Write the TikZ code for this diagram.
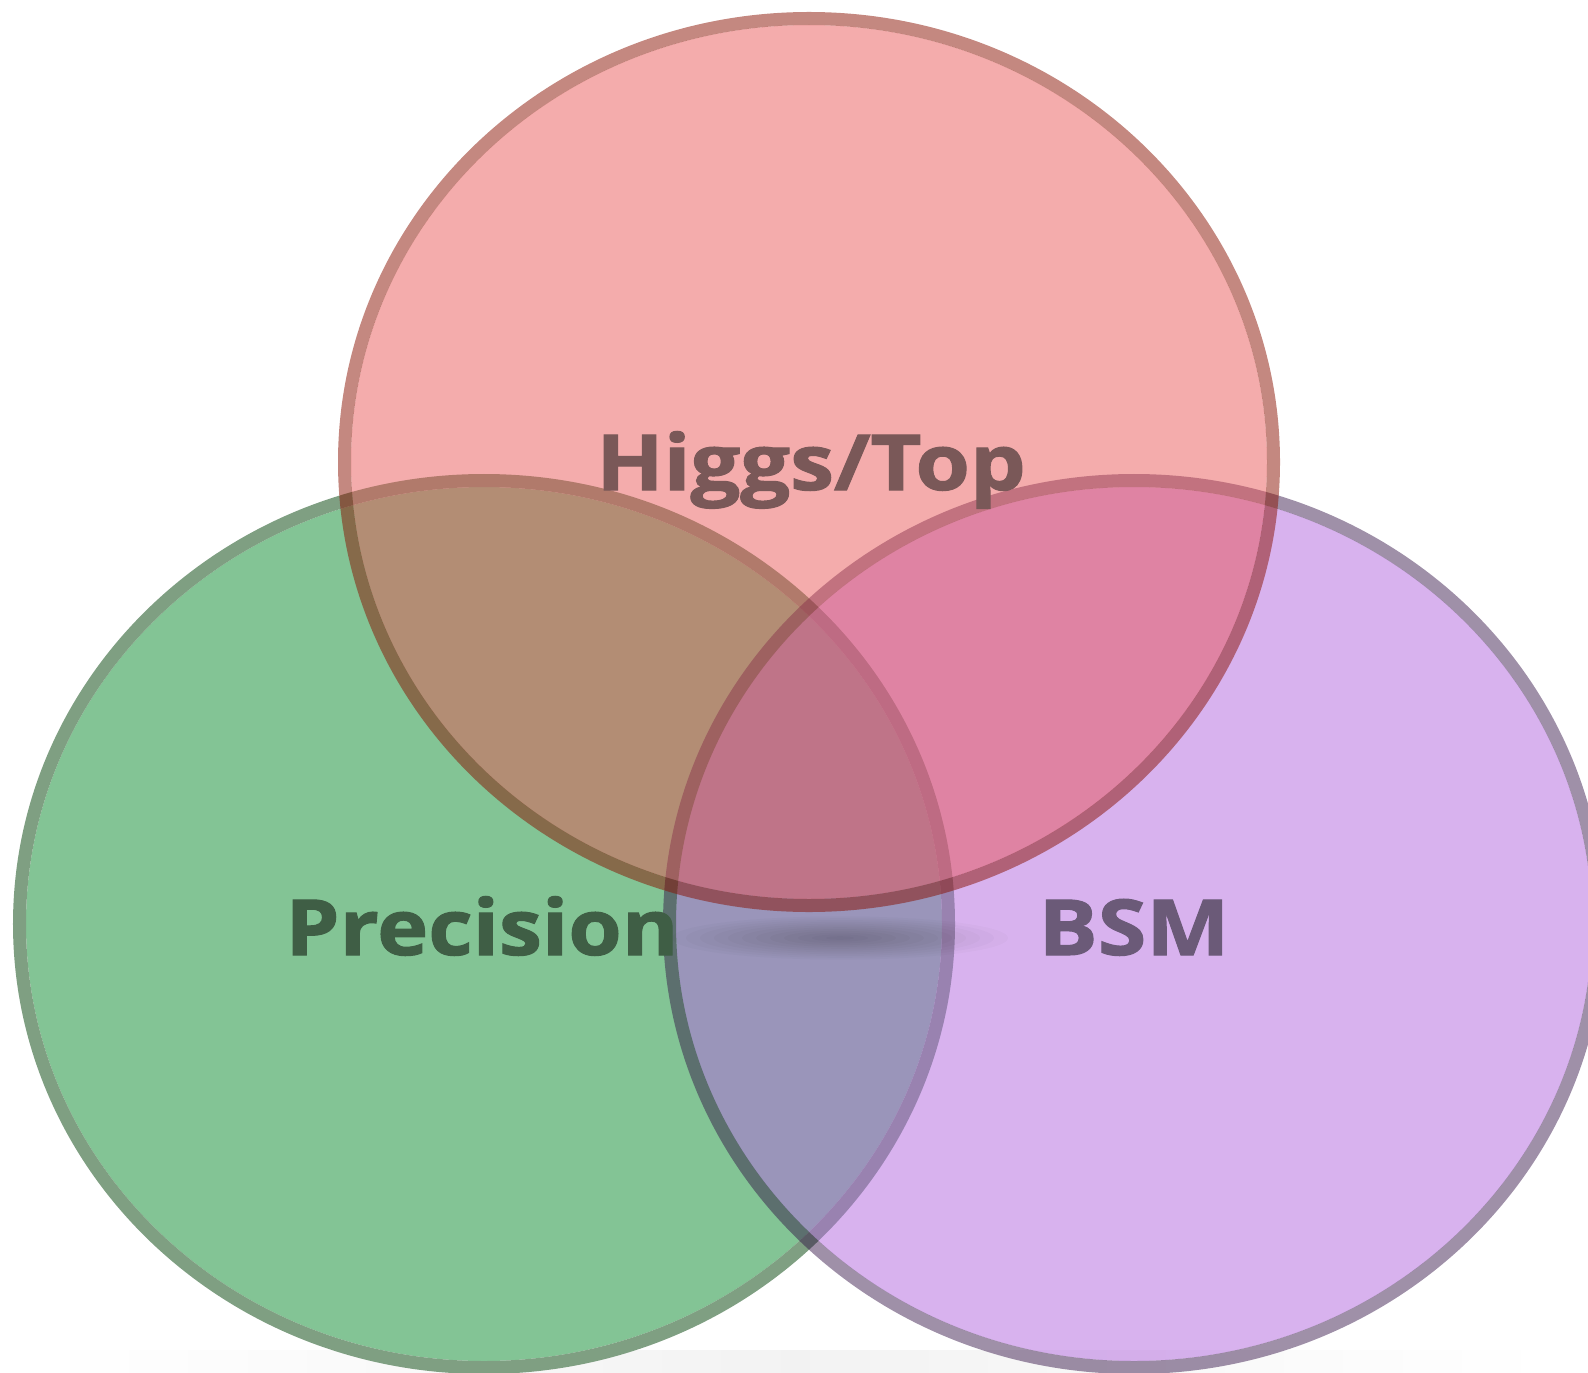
\documentclass[tikz,border=0pt]{standalone}
\usepackage{fontspec}
\setmainfont{Open Sans}
\newfontfamily\lblfont{Open Sans}[BoldFeatures={FakeBold=1.3}]
\usetikzlibrary{calc}
\newcommand*{\radx }{464.5}
\newcommand*{\rady }{443.5}
\newcommand*{\fillx}{458}
\newcommand*{\filly}{437}
\newcommand*{\rimw }{0.13cm}
\definecolor{precfill}{RGB}{131,196,149}
\definecolor{precrim}{RGB}{127,159,130}
\definecolor{bsmfill}{RGB}{178,104,222}
\definecolor{bsmrim}{RGB}{46,12,66}
\definecolor{higgsfill}{RGB}{232,82,82}
\definecolor{higgsrim}{RGB}{137,17,1}
\definecolor{higgstext}{RGB}{122,88,88}
\definecolor{prectext}{RGB}{63,94,69}
\definecolor{bsmtext}{RGB}{107,90,120}

\begin{document}
\begin{tikzpicture}[x=0.01cm, y=-0.01cm, font=\lblfont\bfseries\fontsize{22}{26}\selectfont,
    lbl/.style={anchor=base, inner sep=0pt, xscale=1.14, transform shape}]
    \useasboundingbox (0,0) rectangle (1588,1373);
    \shade [left color=white, right color=white, middle color=black!5] (40,1350) rectangle (1550,1373);
    % precision (drawn first, no transparency)
    \fill [precfill] (484,924) ellipse ({\fillx} and {\filly});
    \draw [precrim, line width=\rimw] (484,924) ellipse ({\radx} and {\rady});
    % bsm
    \fill [bsmfill, fill opacity=0.51] (1134,924) ellipse ({\fillx} and {\filly});
    \draw [bsmrim, draw opacity=0.46, line width=\rimw] (1134,924) ellipse ({\radx} and {\rady});
    % higgs/top
    \fill [higgsfill, fill opacity=0.48] (809,462) ellipse ({\fillx} and {\filly});
    \draw [higgsrim, draw opacity=0.5, line width=\rimw] (809,462) ellipse ({\radx} and {\rady});
    % grey smudge under the labels
    \foreach \k in {1,...,12}
        \fill [black, opacity=0.018] (840,938) ellipse ({14*\k} and {1.8*\k});
    \node [lbl, text=higgstext] (higgs) at (811,490) {Higgs/Top};
    \node [lbl, text=prectext, xscale=0.98] (prec) at (482,955) {Precision};
    \node [lbl, text=bsmtext  ] (bsm)   at (1134,955) {BSM};
\end{tikzpicture}
\end{document}
